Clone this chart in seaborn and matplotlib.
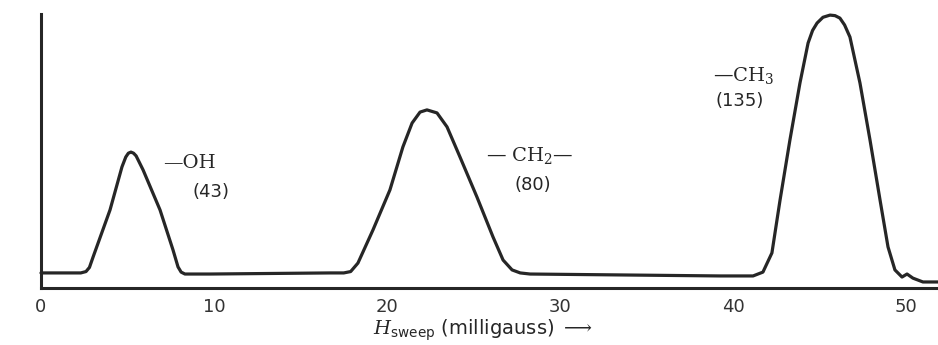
import pandas as pd
import matplotlib
matplotlib.use("Agg")
import matplotlib.pyplot as plt
import seaborn as sns

# trace (H sweep in milligauss, relative signal height)
sweep_x = [0.0, 2.3, 2.6, 2.8, 3.01, 3.99, 4.68, 4.9, 5.05, 5.2, 5.35, 5.5, 5.9, 6.88, 7.63, 7.92, 8.1, 8.32, 9.77,
           16.71, 17.5, 17.9, 18.32, 19.19, 20.17, 20.92, 21.45, 21.91, 22.31, 22.89, 23.47, 24.22, 25.2, 26.13,
           26.71, 27.23, 27.7, 28.27,
           39.25, 41.16, 41.73, 42.25, 42.72, 43.29, 43.87, 44.34, 44.6, 44.86, 45.2, 45.61, 45.9, 46.18, 46.45,
           46.76, 47.34, 47.92, 48.5, 48.96, 49.36, 49.77, 50.06, 50.4, 50.98, 51.85]
signal_y = [0.055, 0.055, 0.06, 0.075, 0.113, 0.285, 0.442, 0.478, 0.492, 0.496, 0.492, 0.482, 0.431, 0.285, 0.139,
            0.077, 0.058, 0.051, 0.051,
            0.055, 0.055, 0.06, 0.091, 0.212, 0.358, 0.515, 0.602, 0.642, 0.650, 0.639, 0.588, 0.478, 0.332, 0.186,
            0.102, 0.066, 0.055, 0.051,
            0.044, 0.044, 0.058, 0.128, 0.321, 0.540, 0.748, 0.894, 0.940, 0.967, 0.988, 0.996, 0.994, 0.985, 0.960,
            0.916, 0.748, 0.540, 0.321, 0.150, 0.066, 0.040, 0.051, 0.036, 0.022, 0.022]

tick_values = [0, 10, 20, 30, 40, 50]

group_labels = ["\u2014OH", "\u2014 CH$_2$\u2014", "\u2014CH$_3$"]
area_labels = ["(43)", "(80)", "(135)"]
group_pos = [(7.05, 0.456), (28.27, 0.485), (38.84, 0.777)]
group_ha = ["left", "center", "left"]
area_pos = [(9.83, 0.35), (28.44, 0.376), (40.4, 0.682)]

df = pd.DataFrame({"sweep": sweep_x, "signal": signal_y})

sns.set_style("white")
plt.rcParams["mathtext.fontset"] = "dejavuserif"
ink = "#262626"

fig = plt.figure(figsize=(9.38, 3.45), dpi=100)
ax = fig.add_axes([41 / 938, 1 - 288 / 345, 1 - 41 / 938, (288 - 14) / 345])

sns.lineplot(data=df, x="sweep", y="signal", sort=False, estimator=None,
             color=ink, linewidth=2.3, ax=ax, clip_on=False,
             solid_joinstyle="round", solid_capstyle="round")

ax.set_xlim(0, 51.85)
ax.set_ylim(0, 1.0)
ax.set_xticks(tick_values)
ax.set_xticklabels([str(t) for t in tick_values], fontsize=13, color="#333333")
ax.set_yticks([])
ax.tick_params(axis="x", direction="in", length=14, width=1.3, color=ink, pad=7)
ax.set_xlabel("")
ax.set_ylabel("")

for side in ["top", "right"]:
    ax.spines[side].set_visible(False)
for side in ["left", "bottom"]:
    ax.spines[side].set_linewidth(2.2)
    ax.spines[side].set_color(ink)

serif = ["DejaVu Serif"]
for text, (gx, gy), ha in zip(group_labels, group_pos, group_ha):
    ax.text(gx, gy, text, ha=ha, va="center", fontsize=14, family=serif, color=ink)
for text, (px, py) in zip(area_labels, area_pos):
    ax.text(px, py, text, ha="center", va="center", fontsize=13, color=ink)

fig.text(483 / 938, 2 / 345,
         r"$\mathbf{\mathit{H}}_{\mathsf{sweep}}$ (milligauss) $\longrightarrow$",
         ha="center", va="bottom", fontsize=14, color=ink)

fig.savefig("out.png", dpi=100)
